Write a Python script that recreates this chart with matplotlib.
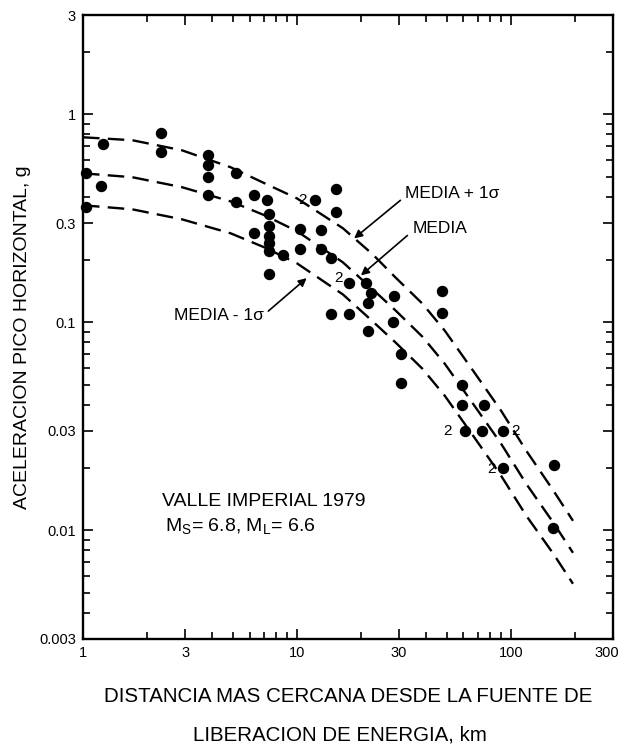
import matplotlib
matplotlib.use("Agg")
import matplotlib.pyplot as plt
import matplotlib.transforms as mtransforms
from matplotlib.ticker import LogLocator, NullFormatter, FixedLocator, FixedFormatter

plt.rcParams['font.family'] = ['Liberation Sans', 'DejaVu Sans']

# Observed records (distance km, peak horizontal acceleration g)
dist = [1.24, 2.31, 2.31, 3.85, 3.85, 3.85, 5.18, 1.03, 1.22, 1.03,
        3.85, 5.18, 6.27, 7.27, 7.4, 7.4, 6.27, 7.4, 7.4, 7.4,
        7.4, 8.6, 10.3, 10.3, 12.1, 15.3, 15.3, 13.0, 13.0, 14.5,
        17.5, 21.0, 22.2, 21.5, 28.3, 47.6, 47.6, 14.5, 17.5, 28.0,
        21.5, 30.8, 30.8, 58.8, 58.8, 75.1, 60.7, 73.5, 91.8, 91.8,
        159.6, 158.0]
pga = [0.72, 0.81, 0.66, 0.64, 0.57, 0.50, 0.52, 0.52, 0.45, 0.36,
       0.41, 0.38, 0.41, 0.386, 0.33, 0.29, 0.27, 0.26, 0.24, 0.22,
       0.17, 0.21, 0.28, 0.224, 0.385, 0.435, 0.338, 0.277, 0.224, 0.203,
       0.154, 0.154, 0.138, 0.124, 0.133, 0.141, 0.111, 0.110, 0.110, 0.0998,
       0.091, 0.070, 0.051, 0.050, 0.040, 0.040, 0.030, 0.030, 0.030, 0.020,
       0.0207, 0.0103]

# "2" labels (two coincident records)
dup_x = [10.6, 15.6, 50.6, 105.6, 80.8]
dup_y = [0.385, 0.164, 0.030, 0.030, 0.0197]

# Attenuation curves
curve_x = [1.0, 1.7, 2.9, 4.9, 7.05, 10.0, 16.4, 22.6, 28.9, 38.5, 49.0,
           67.5, 89.9, 118, 158, 195]
media_plus = [0.775, 0.750, 0.671, 0.556, 0.466, 0.394, 0.283, 0.212, 0.164,
              0.1231, 0.0913, 0.0573, 0.0376, 0.0241, 0.0155, 0.0111]
media = [0.520, 0.498, 0.446, 0.381, 0.327, 0.274, 0.194, 0.1438, 0.1139,
         0.0854, 0.0633, 0.0397, 0.0261, 0.0167, 0.01086, 0.00779]
media_minus = [0.365, 0.349, 0.3125, 0.2676, 0.229, 0.192, 0.136, 0.1009,
               0.0799, 0.0599, 0.0444, 0.0279, 0.0183, 0.01174, 0.0077, 0.00553]

x_ticks = [1, 3, 10, 30, 100, 300]
x_tick_labels = ['1', '3', '10', '30', '100', '300']
y_ticks = [0.003, 0.01, 0.03, 0.1, 0.3, 1, 3]
y_tick_labels = ['0.003', '0.01', '0.03', '0.1', '0.3', '1', '3']

fig = plt.figure(figsize=(6.2, 7.47), dpi=100)
ax = fig.add_axes([0.1339, 0.1446, 0.8548, 0.8353])
ax.set_xscale('log')
ax.set_yscale('log')
ax.set_xlim(1, 300)
ax.set_ylim(0.003, 3)

for yv in (media_plus, media, media_minus):
    ax.plot(curve_x, yv, color='black', lw=1.7, linestyle=(0, (7, 3.5)))

ax.plot(dist, pga, 'o', color='black', ms=7.2, clip_on=False, zorder=3)

for xx, yy in zip(dup_x, dup_y):
    ax.text(xx, yy, '2', ha='center', va='center', fontsize=11)

ax.xaxis.set_major_locator(FixedLocator(x_ticks))
ax.xaxis.set_major_formatter(FixedFormatter(x_tick_labels))
ax.xaxis.set_minor_locator(LogLocator(base=10, subs=range(2, 10), numticks=20))
ax.xaxis.set_minor_formatter(NullFormatter())
ax.yaxis.set_major_locator(FixedLocator(y_ticks))
ax.yaxis.set_major_formatter(FixedFormatter(y_tick_labels))
ax.yaxis.set_minor_locator(LogLocator(base=10, subs=range(2, 10), numticks=20))
ax.yaxis.set_minor_formatter(NullFormatter())

ax.tick_params(which='both', direction='in', top=True, right=True,
               width=1.2, labelsize=10.5, colors='black')
ax.tick_params(which='major', length=7, pad=5)
ax.tick_params(which='minor', length=5)
for sp in ax.spines.values():
    sp.set_linewidth(1.7)

# keep the last x tick label inside the image
fig.canvas.draw()
last = ax.get_xticklabels()[-1]
last.set_transform(last.get_transform() +
                   mtransforms.ScaledTranslation(-6 / 100, 0, fig.dpi_scale_trans))

# curve labels
ax.annotate('MEDIA + 1σ', xy=(18.5, 0.253), xytext=(32.1, 0.417),
            ha='left', va='center', fontsize=12.5,
            arrowprops=dict(arrowstyle='-|>', color='black', lw=1.2,
                            mutation_scale=12, shrinkA=2, shrinkB=0,
                            relpos=(0, 0.3)))
ax.annotate('MEDIA', xy=(19.9, 0.168), xytext=(34.6, 0.283),
            ha='left', va='center', fontsize=12.5,
            arrowprops=dict(arrowstyle='-|>', color='black', lw=1.2,
                            mutation_scale=12, shrinkA=2, shrinkB=0,
                            relpos=(0, 0.3)))
ax.annotate('MEDIA - 1σ', xy=(11.1, 0.163), xytext=(2.65, 0.108),
            ha='left', va='center', fontsize=12.5,
            arrowprops=dict(arrowstyle='-|>', color='black', lw=1.2,
                            mutation_scale=12, shrinkA=2, shrinkB=0,
                            relpos=(1, 0.5)))

ax.text(0.149, 0.2196, 'VALLE IMPERIAL 1979', transform=ax.transAxes,
        ha='left', va='center', fontsize=14)
ax.text(0.155, 0.179, r'M$_\mathregular{S}$= 6.8, M$_\mathregular{L}$= 6.6',
        transform=ax.transAxes, ha='left', va='center', fontsize=14)

fig.text(0.037, 0.549, 'ACELERACION PICO HORIZONTAL, g', rotation=90,
         ha='center', va='center', fontsize=14)
fig.text(0.562, 0.067, 'DISTANCIA MAS CERCANA DESDE LA FUENTE DE',
         ha='center', va='center', fontsize=14.8)
fig.text(0.548, 0.016, 'LIBERACION DE ENERGIA, km',
         ha='center', va='center', fontsize=14.8)

fig.savefig('out.png', dpi=100)
